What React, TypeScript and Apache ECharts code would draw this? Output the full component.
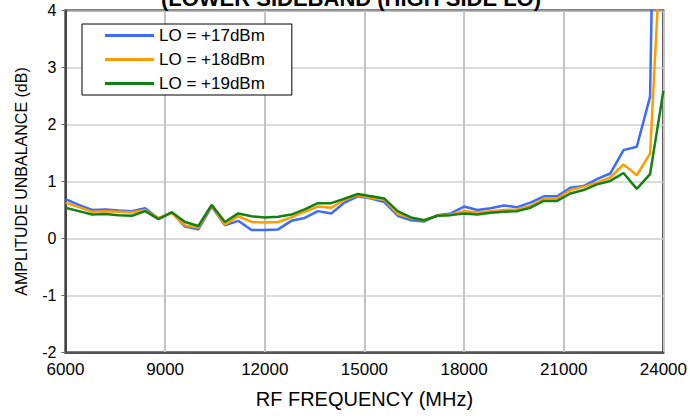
import React, { useEffect, useRef } from "react";
import * as echarts from "echarts";

const freqs: number[] = [
  6000, 6400, 6800, 7200, 7600, 8000, 8400, 8800, 9200, 9600, 10000, 10400,
  10800, 11200, 11600, 12000, 12400, 12800, 13200, 13600, 14000, 14400, 14800,
  15200, 15600, 16000, 16400, 16800, 17200, 17600, 18000, 18400, 18800, 19200,
  19600, 20000, 20400, 20800, 21200, 21600, 22000, 22400, 22800, 23200, 23600,
  24000,
];

const lo17: number[] = [
  0.69, 0.59, 0.5, 0.51, 0.49, 0.48, 0.53, 0.35, 0.46, 0.21, 0.16, 0.56, 0.23,
  0.31, 0.15, 0.15, 0.16, 0.31, 0.36, 0.48, 0.44, 0.63, 0.74, 0.7, 0.64, 0.4,
  0.32, 0.3, 0.41, 0.44, 0.56, 0.5, 0.53, 0.58, 0.55, 0.63, 0.74, 0.74, 0.89,
  0.92, 1.04, 1.14, 1.55, 1.61, 2.49, 16,
];

const lo18: number[] = [
  0.63, 0.55, 0.47, 0.48, 0.47, 0.46, 0.5, 0.36, 0.45, 0.23, 0.19, 0.58, 0.24,
  0.39, 0.29, 0.28, 0.29, 0.37, 0.47, 0.56, 0.54, 0.68, 0.76, 0.71, 0.68, 0.43,
  0.36, 0.32, 0.4, 0.42, 0.48, 0.46, 0.48, 0.5, 0.51, 0.57, 0.7, 0.7, 0.85,
  0.91, 0.98, 1.07, 1.3, 1.11, 1.49, 6,
];

const lo19: number[] = [
  0.54, 0.48, 0.42, 0.43, 0.41, 0.4, 0.48, 0.34, 0.46, 0.29, 0.22, 0.59, 0.29,
  0.44, 0.39, 0.37, 0.38, 0.42, 0.51, 0.62, 0.62, 0.7, 0.78, 0.74, 0.7, 0.48,
  0.37, 0.32, 0.4, 0.41, 0.44, 0.42, 0.45, 0.47, 0.48, 0.54, 0.66, 0.66, 0.79,
  0.85, 0.95, 1.01, 1.15, 0.87, 1.13, 2.59,
];

const seriesNames: string[] = ["LO = +17dBm", "LO = +18dBm", "LO = +19dBm"];
const seriesColors: string[] = ["#3d6bff", "#ff9c00", "#138013"];
const titleText = "(LOWER SIDEBAND (HIGH SIDE LO)";
const xName = "RF FREQUENCY (MHz)";
const yName = "AMPLITUDE UNBALANCE (dB)";

const FONT = "'Liberation Sans', Arial, sans-serif";

export default function App() {
  const ref = useRef<HTMLDivElement>(null);
  useEffect(() => {
    if (!ref.current) return;
    const chart = echarts.init(ref.current, undefined, { renderer: "svg" });
    const all = [lo17, lo18, lo19];
    chart.setOption({
      animation: false,
      backgroundColor: "#fff",
      textStyle: { fontFamily: FONT },
      graphic: [
        {
          type: "text",
          x: 351,
          y: -1.5,
          style: {
            text: titleText,
            font: `bold 22px ${FONT}`,
            fill: "#000",
            textAlign: "center",
            textVerticalAlign: "middle",
          },
          z: 10,
        },
      ],
      grid: {
        left: 65.5,
        right: 25.5,
        top: 10.5,
        bottom: 65.5,
        show: true,
        borderColor: "#000",
        borderWidth: 2,
        backgroundColor: "#fff",
      },
      legend: {
        orient: "vertical",
        left: 82,
        top: 24,
        padding: [3, 27, 3, 23],
        itemGap: 7,
        itemWidth: 49,
        itemHeight: 3,
        icon: "rect",
        backgroundColor: "#fff",
        borderColor: "#000",
        borderWidth: 1,
        borderRadius: 0,
        textStyle: { fontSize: 17, color: "#000", fontFamily: FONT },
        data: seriesNames,
      },
      xAxis: {
        type: "value",
        min: 6000,
        max: 24000,
        interval: 3000,
        name: xName,
        nameLocation: "middle",
        nameGap: 36,
        nameTextStyle: { fontSize: 20, color: "#000", fontFamily: FONT },
        axisLine: { show: true, onZero: false, lineStyle: { color: "#555", width: 2 } },
        axisTick: { show: false },
        axisLabel: {
          fontSize: 17,
          color: "#000",
          margin: 8,
          fontFamily: FONT,
          formatter: (v: number) => String(v),
        },
        splitLine: { show: true, lineStyle: { color: "#c4c4c4", width: 2 } },
      },
      yAxis: {
        type: "value",
        min: -2,
        max: 4,
        interval: 1,
        name: yName,
        nameLocation: "middle",
        nameGap: 36,
        nameTextStyle: { fontSize: 16, color: "#000", fontFamily: FONT },
        axisLine: { show: true, onZero: false, lineStyle: { color: "#444", width: 2 } },
        axisTick: { show: true, length: 4, lineStyle: { color: "#666", width: 1 } },
        axisLabel: { fontSize: 16, color: "#000", margin: 9, fontFamily: FONT },
        splitLine: { show: true, lineStyle: { color: "#cfcfcf", width: 1.5 } },
      },
      series: all.map((vals, i) => ({
        name: seriesNames[i],
        type: "line",
        data: freqs.map((f, j) => [f, vals[j]]),
        showSymbol: false,
        symbol: "none",
        clip: true,
        lineStyle: { color: seriesColors[i], width: 2.5 },
        itemStyle: { color: seriesColors[i] },
        z: 3 + i,
      })),
    });
    return () => chart.dispose();
  }, []);
  return (
    <div
      ref={ref}
      style={{ position: "fixed", left: 0, top: 0, width: 690, height: 418 }}
    />
  );
}
